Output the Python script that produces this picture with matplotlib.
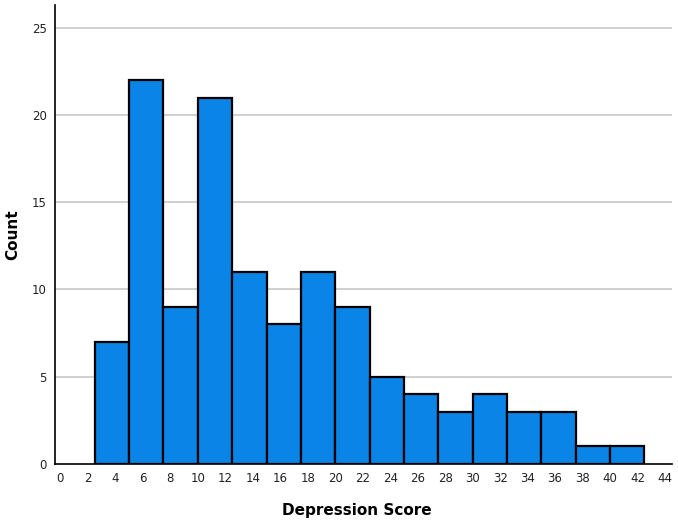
import numpy as np
import matplotlib
matplotlib.use('Agg')
import matplotlib.pyplot as plt

# histogram bins (width 2.5) and counts
bin_edges = np.arange(2.5, 42.6, 2.5)
counts = [7, 22, 9, 21, 11, 8, 11, 9, 5, 4, 3, 4, 3, 3, 1, 1]
xticks = list(range(0, 45, 2))
yticks = [0, 5, 10, 15, 20, 25]

plt.rcParams['font.family'] = ['DejaVu Sans']

fig = plt.figure(figsize=(6.78, 5.2), dpi=100)
ax = fig.add_axes([0.081, 0.108, 0.910, 0.882])

for y in yticks[1:]:
    ax.axhline(y, color='#c8c8c8', lw=1.2, zorder=0)

ax.bar(bin_edges[:-1], counts, width=2.5, align='edge',
       color='#0a84e6', edgecolor='black', linewidth=1.6, zorder=2)

ax.set_xlim(-0.4, 44.5)
ax.set_ylim(0, 26.3)
ax.set_xticks(xticks)
ax.set_yticks(yticks)
ax.tick_params(length=0, labelsize=8.5, colors='#222222', pad=6)
for s in ['top', 'right']:
    ax.spines[s].set_visible(False)
for s in ['left', 'bottom']:
    ax.spines[s].set_linewidth(1.2)
    ax.spines[s].set_zorder(3)

ax.set_xlabel('Depression Score', fontsize=11, fontweight='bold')
ax.set_ylabel('Count', fontsize=11, fontweight='bold')
ax.xaxis.set_label_coords(0.49, -0.085)
ax.yaxis.set_label_coords(-0.056, 0.5)

fig.savefig('out.png', dpi=100)
